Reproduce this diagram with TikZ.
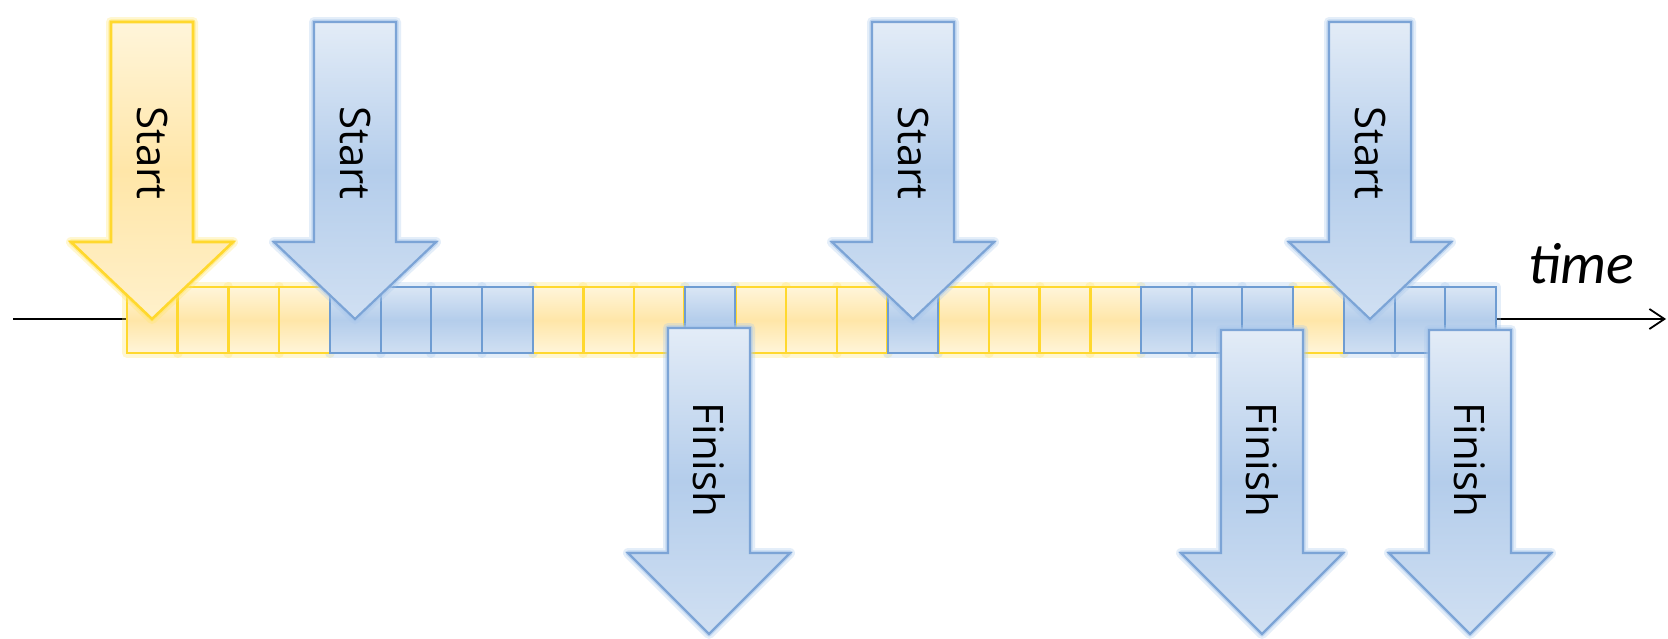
\documentclass[tikz,border=0pt]{standalone}
\usepackage{fontspec}
\setmainfont{Open Sans}
\newfontfamily\timefont{Carlito}
\usetikzlibrary{arrows.meta}
\definecolor{ylborder}{HTML}{FFD82E}
\definecolor{ylglow}{HTML}{FFE66A}
\definecolor{yltop}{HTML}{FFF5DA}
\definecolor{ylmid}{HTML}{FFE6A8}
\definecolor{blborder}{HTML}{7CA4D6}
\definecolor{blglow}{HTML}{A8C7EC}
\definecolor{bltop}{HTML}{E3ECF7}
\definecolor{blmid}{HTML}{B4CDEB}
\definecolor{blcell}{HTML}{6E9CD2}
\tikzset{
  ylglowA/.style={draw=ylglow, line width=5pt, opacity=0.3, line join=round},
  ylglowB/.style={draw=ylglow, line width=2.6pt, opacity=0.55, line join=round},
  ylfill/.style={draw=ylborder, line width=1.3pt, top color=yltop, bottom color=yltop!70!ylmid, middle color=ylmid, line join=miter},
  blglowA/.style={draw=blglow, line width=5pt, opacity=0.3, line join=round},
  blglowB/.style={draw=blglow, line width=2.6pt, opacity=0.55, line join=round},
  blfill/.style={draw=blborder, line width=1.1pt, top color=bltop, bottom color=bltop!60!blmid, middle color=blmid, line join=miter},
  ylcell/.style={draw=ylborder, line width=1.3pt, top color=yltop, bottom color=yltop, middle color=ylmid},
  blcellst/.style={draw=blcell, line width=1pt, top color=bltop!80!blmid, bottom color=bltop!60!blmid, middle color=blmid},
  lbl/.style={font=\fontsize{21}{25}\selectfont, rotate=-90, inner sep=0pt},
  timelbl/.style={font=\timefont\fontsize{29}{34}\selectfont\itshape, inner sep=0pt, anchor=base},
  tline/.style={draw=black, line width=0.8pt}
}
% #1 node name, #2 cx, #3 top, #4 wing, #5 tip, #6 prefix (yl/bl), #7 label, #8 label y
\newcommand\bigarrow[8]{%
  \foreach \sty in {#6glowA,#6glowB,#6fill}{%
    \path[\sty] (#2-41,#3) -- (#2+41,#3) -- (#2+41,#4) -- (#2+81,#4) -- (#2,#5)
      -- (#2-81,#4) -- (#2-41,#4) -- cycle;
  }
  \node[lbl] (#1) at (#2,#8) {#7};
}
\begin{document}
\begin{tikzpicture}[x=0.5pt, y=-0.5pt]
\useasboundingbox (0,0) rectangle (1668,638);
\fill[white] (0,0) rectangle (1668,638);
% timeline
\coordinate (tl0) at (13,319);
\coordinate (tl1) at (127,319);
\coordinate (tr0) at (1496,319);
\coordinate (tr1) at (1666,319);
\draw[tline] (tl0) -- (tl1);
\draw[tline, line width=0.9pt, -{Straight Barb[length=7.5pt,width=10pt,line width=0.9pt]}] (tr0) -- (tr1);
% bar glow
\foreach \i in {0,1,2,3,8,9,10,12,13,14,16,17,18,19,23}{
  \path[ylglowA] (127+\i*50.7,287) rectangle (127+\i*50.7+50.7,353);
}
\foreach \i in {4,5,6,7,11,15,20,21,22,24,25,26}{
  \path[blglowA] (127+\i*50.7,287) rectangle (127+\i*50.7+50.7,353);
}
% cells
\foreach \i in {0,1,2,3,8,9,10,12,13,14,16,17,18,19,23}{
  \path[ylcell] (127+\i*50.7,287) rectangle (127+\i*50.7+50.7,353);
}
\foreach \i in {4,5,6,7,11,15,20,21,22,24,25,26}{
  \path[blcellst] (127+\i*50.7,287) rectangle (127+\i*50.7+50.7,353);
}
% start arrows
\bigarrow{s1}{152}{22}{242}{319}{yl}{Start}{153}
\bigarrow{s2}{355}{22}{242}{319}{bl}{Start}{153}
\bigarrow{s3}{913}{22}{242}{319}{bl}{Start}{153}
\bigarrow{s4}{1370}{22}{242}{319}{bl}{Start}{153}
% finish arrows
\bigarrow{f1}{709}{328}{553}{634}{bl}{Finish}{460}
\bigarrow{f2}{1262}{330}{553}{634}{bl}{Finish}{460}
\bigarrow{f3}{1470}{330}{553}{634}{bl}{Finish}{460}
% time label
\node[timelbl] (time) at (1581,283) {time};
\end{tikzpicture}
\end{document}
